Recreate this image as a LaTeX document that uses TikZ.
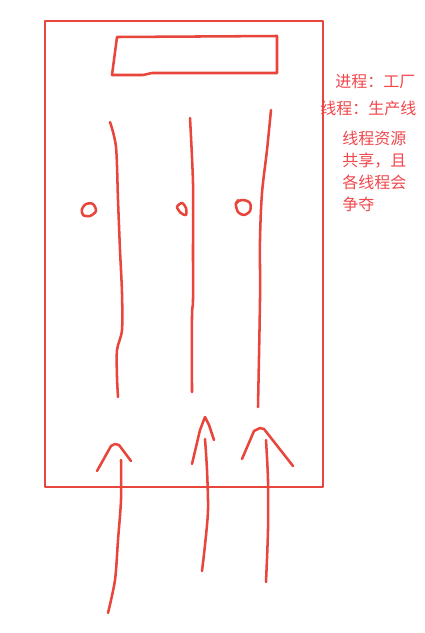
\documentclass[tikz,border=0pt]{standalone}
\usepackage{fontspec}
\newfontfamily\cjk{Noto Sans CJK SC}
\usetikzlibrary{positioning}
\definecolor{penred}{HTML}{E8453C}
\definecolor{notered}{HTML}{F0474C}

\begin{document}
\begin{tikzpicture}[
  x=0.75pt, y=-0.75pt,
  pen/.style={draw=penred, line width=1.9pt, line cap=round, line join=round},
  box/.style={pen, line width=1.8pt},
  note/.style={text=notered, font=\cjk\fontsize{12}{16.5}\selectfont,
               inner sep=0pt, align=left}
]
\useasboundingbox (0,0) rectangle (425,633);

% factory outline and the top bar
\draw[box] (45,21) rectangle (323,487);
\draw[pen] (117,37) -- (277,36) -- (277,73) -- (152,73)
  -- (143,75) -- (112,75) -- cycle;

% three production lines
\draw[pen] plot[smooth] coordinates {(110,122) (116,147) (118,200) (120,250)
  (122,293) (122,330) (117,350) (117,377) (118,397)};
\draw[pen] plot[smooth] coordinates {(190,118) (193,183) (193,250) (193,300)
  (192,317) (192,392)};
\draw[pen] plot[smooth] coordinates {(271,110) (267,150) (262,193) (260,240)
  (260,300) (258,407)};

% small marks beside the lines
\draw[pen] plot[smooth cycle] coordinates {(82,209) (86,204) (93,204)
  (96,211) (90,216) (83,215)};
\draw[pen] plot[smooth cycle] coordinates {(177,207) (182,203) (186,208)
  (186,215) (181,213)};
\draw[pen] (237,203) -- (238,200);
\draw[pen] plot[smooth cycle] coordinates {(236,203) (243,200) (250,203)
  (250,211) (244,215) (238,212)};

% incoming arrows
\coordinate (a1) at (115,444);
\coordinate (a2) at (205,417);
\coordinate (a3) at (260,428);
\draw[pen] (97,471) -- (111,446) to[bend left=40] (119,445) -- (131,461);
\draw[pen] plot[smooth] coordinates {(121,460) (121,500) (118,540)
  (115,580) (108,613)};
\draw[pen] (192,464) -- (200,430) -- (a2) -- (209,425) -- (214,440);
\draw[pen] plot[smooth] coordinates {(205,439) (207,470) (208,510)
  (205,545) (202,571)};
\draw[pen] (242,459) -- (254,431) -- (a3) -- (264,429) -- (293,466);
\draw[pen] plot[smooth] coordinates {(266,440) (268,480) (268,530)
  (266,582)};

% notes
\node[note, anchor=west] (proc) at (335,82) {进程：工厂};
\node[note, anchor=west] (thrd) at (320,108) {线程：生产线};
\node[note, anchor=north west] (share) at (342,131)
  {线程资源\\共享，且\\各线程会\\争夺};
\end{tikzpicture}
\end{document}
